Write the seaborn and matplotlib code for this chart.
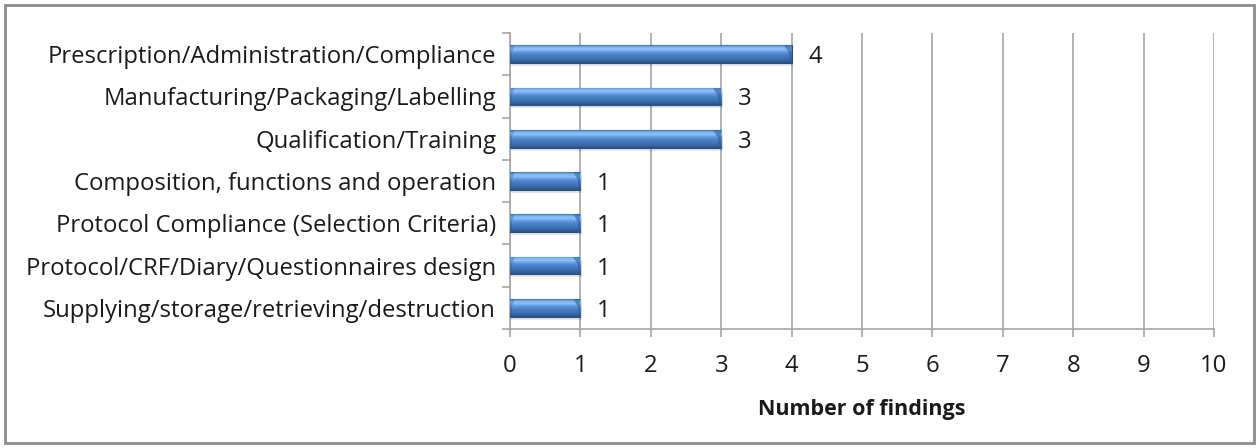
import numpy as np
import pandas as pd
import matplotlib
matplotlib.use("Agg")
import matplotlib.pyplot as plt
import seaborn as sns
from matplotlib.colors import LinearSegmentedColormap
from matplotlib.patches import Rectangle, Polygon
from matplotlib.ticker import FixedLocator

categories = [
    "Prescription/Administration/Compliance",
    "Manufacturing/Packaging/Labelling",
    "Qualification/Training",
    "Composition, functions and operation",
    "Protocol Compliance (Selection Criteria)",
    "Protocol/CRF/Diary/Questionnaires design",
    "Supplying/storage/retrieving/destruction",
]
findings = [4, 3, 3, 1, 1, 1, 1]
x_ticks = list(range(0, 11))
x_label = "Number of findings"

sns.set_theme(style="white")
plt.rcParams["font.family"] = ["Open Sans", "DejaVu Sans"]
FS = 17.2

W, H = 1259, 448
fig = plt.figure(figsize=(W / 100, H / 100), dpi=100)
ax = fig.add_axes([510 / W, 1 - 329 / H, 704 / W, 296 / H])

df = pd.DataFrame({"category": categories, "findings": findings})
sns.barplot(data=df, y="category", x="findings", orient="h", color="#4F81BD",
            width=0.42, ax=ax, zorder=3, edgecolor="#2A5080", linewidth=0.8)

ax.set_xlim(0, 10)
ax.set_ylim(len(categories) - 0.5, -0.5)

# cylinder-like shading for each bar
bar_cmap = LinearSegmentedColormap.from_list("bar", [
    (0.00, "#3F72B5"),
    (0.10, "#7DB3F2"),
    (0.25, "#8FC1F5"),
    (0.40, "#5E95DB"),
    (0.55, "#4A80C8"),
    (0.80, "#3D6DAF"),
    (1.00, "#2A5088"),
])
grad = np.linspace(0, 1, 64).reshape(-1, 1)
bevel = 0.11  # width of the bevelled end caps, in x units
container = ax.containers[0]
for patch in container.patches:
    x0, y0 = patch.get_x(), patch.get_y()
    w, h = patch.get_width(), patch.get_height()
    x1 = x0 + w
    # soft drop shadow below the bar
    ax.add_patch(Rectangle((x0 + 0.02, y0 + 0.07), w, h, facecolor="#000000",
                           alpha=0.10, edgecolor="none", zorder=2))
    im = ax.imshow(grad, cmap=bar_cmap, aspect="auto", origin="upper",
                   extent=(x0, x1, y0 + h, y0), zorder=3.5,
                   interpolation="bilinear")
    im.set_clip_path(patch)
    # darker bevel on the right end, lighter on the left end
    right = Polygon([(x1 - bevel, y0), (x1, y0), (x1, y0 + h),
                     (x1 - bevel * 0.35, y0 + h), (x1 - bevel * 0.35, y0 + h * 0.45)],
                    closed=True, facecolor="#2C5A96", alpha=0.55,
                    edgecolor="none", zorder=3.6)
    ax.add_patch(right)
    right.set_clip_path(patch)
    left = Polygon([(x0, y0), (x0 + bevel * 0.6, y0),
                    (x0 + bevel * 0.25, y0 + h * 0.45), (x0 + bevel * 0.25, y0 + h),
                    (x0, y0 + h)],
                   closed=True, facecolor="#2C5A96", alpha=0.35,
                   edgecolor="none", zorder=3.6)
    ax.add_patch(left)
    left.set_clip_path(patch)

ax.set_xlim(0, 10)
ax.set_ylim(len(categories) - 0.5, -0.5)

labels = ax.bar_label(container, labels=[str(v) for v in findings], padding=12,
                      fontsize=FS, color="#1a1a1a")
for t in labels:
    t.xyann = (t.xyann[0], -2.2)

# axes styling
grid_c = "#A6A6A6"
ax.set_xticks(x_ticks)
ax.xaxis.grid(True, color=grid_c, linewidth=1.2, zorder=0)
ax.set_axisbelow(True)
for side in ("top", "right"):
    ax.spines[side].set_visible(False)
for side in ("left", "bottom"):
    ax.spines[side].set_color(grid_c)
    ax.spines[side].set_linewidth(1.2)

ax.tick_params(axis="x", which="major", bottom=True, length=6, width=1.2,
               color=grid_c, labelsize=FS, pad=12, labelcolor="#1a1a1a")
ax.tick_params(axis="y", which="major", left=False, length=0, labelsize=FS,
               pad=10, labelcolor="#1a1a1a")
ax.yaxis.set_minor_locator(FixedLocator(np.arange(-0.5, len(categories), 1.0)))
ax.tick_params(axis="y", which="minor", left=True, length=6, width=1.2,
               color=grid_c)

ax.set_ylabel("")
ax.set_xlabel(x_label, fontsize=15.5, fontweight="bold", labelpad=15,
              color="#1a1a1a")

# chart border
fig.patches.append(Rectangle((5 / W, 5 / H), 1 - 10 / W, 1 - 10 / H,
                             transform=fig.transFigure, fill=False,
                             edgecolor="#8C8C8C", linewidth=2))

fig.savefig("out.png", dpi=100)
